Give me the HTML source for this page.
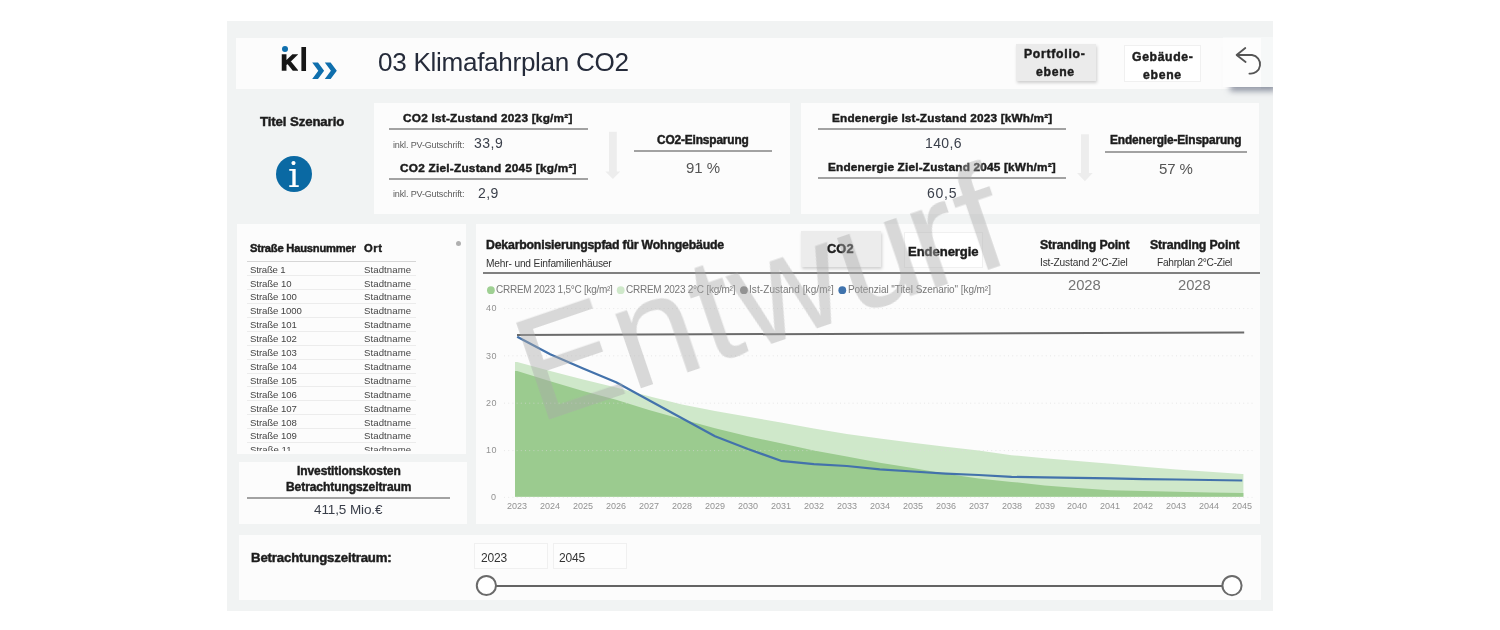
<!DOCTYPE html>
<html lang="de"><head><meta charset="utf-8"><title>03 Klimafahrplan CO2</title>
<style>
html,body{margin:0;padding:0;background:#fff}
body{width:1500px;height:630px;position:relative;overflow:hidden;font-family:"Liberation Sans", sans-serif}
.abs{position:absolute}
.p{position:absolute;background:#fcfcfc}
.t{position:absolute;white-space:nowrap;line-height:1;font-family:"Liberation Sans", sans-serif;will-change:transform}
.hl{position:absolute;height:1.9px;background:#a2a2a2;margin-top:-.5px}
.rl{position:absolute;height:1px;background:#ececec;left:246.7px;width:169.2px}
</style></head><body>
<div class="abs" style="left:227.3px;top:21px;width:1046px;height:590px;background:#f1f3f3"></div>
<!-- header -->
<div class="p" style="left:235.6px;top:37.6px;width:1025.4px;height:51px"></div>
<!-- kpi panels -->
<div class="p" style="left:374.2px;top:103.2px;width:415.8px;height:111.3px"></div>
<div class="p" style="left:800.7px;top:103.2px;width:458.5px;height:111.3px"></div>
<!-- table / invest / chart / bottom -->
<div class="p" style="left:237px;top:223.7px;width:228.8px;height:230.4px"></div>
<div class="p" style="left:239px;top:461.9px;width:227.8px;height:62.5px"></div>
<div class="p" style="left:475.5px;top:223.8px;width:784px;height:300.2px"></div>
<div class="p" style="left:239.3px;top:534.9px;width:1021.7px;height:65.4px"></div>

<!-- header buttons -->
<div class="abs" style="left:1016.4px;top:43.8px;width:79.3px;height:36.8px;background:#ebebeb;box-shadow:1px 2px 3px rgba(0,0,0,.18)"></div>
<div class="abs" style="left:1123.7px;top:45.4px;width:77.3px;height:36.6px;background:#fff;border:1px solid #f0f0f0;box-sizing:border-box"></div>
<div class="abs" style="left:227.3px;top:21px;width:1046px;height:590px;overflow:hidden"><div class="abs" style="left:996px;top:15.6px;width:52px;height:50.6px;background:rgba(255,255,255,.4);box-shadow:4px 7px 6px -3px rgba(60,70,95,.55)"></div></div>
<svg class="abs" style="left:1223px;top:36px" width="51" height="52" viewBox="1223 36 51 52"><path d="M1245.3,48 L1236.6,55 L1245.6,62 M1237,55 L1252,55 A9.2,9.2 0 0 1 1249.4,73.6" fill="none" stroke="#555" stroke-width="1.8" stroke-linecap="round" stroke-linejoin="round"/></svg>

<!-- logo -->
<div class="abs" style="left:281.6px;top:45.7px;width:6.2px;height:6.2px;border-radius:50%;background:#0f6fad"></div>
<span class="t" style="left:281.4px;top:51.64px;font-size:22.4px;font-weight:700;color:#161616;-webkit-text-stroke:1.5px #161616">K</span>
<span class="t" style="left:299.2px;top:41.82px;font-size:34px;font-weight:700;color:#161616">l</span>
<svg class="abs" style="left:311px;top:61px" width="28" height="20" viewBox="311 61 28 20"><g fill="#0f6fad"><path d="M312.2,62.5 H318 L324.1,70.7 L318,79.1 H312.2 L318.3,70.7 Z"/><path d="M324.8,62.5 H330.6 L336.8,70.7 L330.6,79.1 H324.8 L330.9,70.7 Z"/></g></svg>

<!-- info icon -->
<div class="abs" style="left:276.2px;top:155.9px;width:36.2px;height:36.2px;border-radius:50%;background:#0a69a3"></div>
<span class="t" style="left:287.8px;top:156.7px;font-family:'DejaVu Serif','Liberation Serif',serif;font-size:36px;font-weight:400;color:#fff">i</span>

<!-- kpi lines -->
<div class="hl" style="left:389.3px;top:128.6px;width:198.5px"></div>
<div class="hl" style="left:389.3px;top:178.5px;width:198.5px"></div>
<div class="hl" style="left:634px;top:150.6px;width:137.7px"></div>
<div class="hl" style="left:817.9px;top:128.6px;width:248.6px"></div>
<div class="hl" style="left:817.9px;top:177.8px;width:248.6px"></div>
<div class="hl" style="left:1104.7px;top:151.6px;width:142.8px"></div>
<svg class="abs" style="left:0;top:0" width="1500" height="630" viewBox="0 0 1500 630"><g fill="#ededed">
<path d="M609,131.8 H616.8 V171.5 H620.3 L612.9,178.9 L605.4,171.5 H609 Z"/>
<path d="M1081,134.2 H1088.9 V173 H1092.7 L1084.9,181.2 L1077,173 H1081 Z"/>
</g></svg>

<!-- table -->
<div class="abs" style="left:246.7px;top:260.9px;width:169.2px;height:1.2px;background:#d6d6d6"></div>
<div class="rl" style="top:275.2px"></div><div class="rl" style="top:289.1px"></div><div class="rl" style="top:303.0px"></div><div class="rl" style="top:316.9px"></div><div class="rl" style="top:330.8px"></div><div class="rl" style="top:344.7px"></div><div class="rl" style="top:358.6px"></div><div class="rl" style="top:372.5px"></div><div class="rl" style="top:386.4px"></div><div class="rl" style="top:400.3px"></div><div class="rl" style="top:414.2px"></div><div class="rl" style="top:428.1px"></div><div class="rl" style="top:442.0px"></div>
<div class="abs" style="left:455.8px;top:241.4px;width:5px;height:5px;border-radius:50%;background:#b0b0b0"></div>
<div class="hl" style="left:246.7px;top:497.9px;width:203.8px"></div>

<!-- chart -->
<div class="abs" style="left:801.4px;top:230.7px;width:80.1px;height:35.9px;background:#ececec;box-shadow:1px 2px 3px rgba(0,0,0,.18)"></div>
<div class="abs" style="left:904.3px;top:232px;width:78.4px;height:36px;background:#fff;border:1px solid #f0f0f0;box-sizing:border-box"></div>
<div class="abs" style="left:482.5px;top:272.3px;width:777px;height:1.9px;background:#808080"></div>
<svg class="abs" style="left:0;top:0" width="1500" height="630" viewBox="0 0 1500 630">
<path d="M515.0,496.7 L515.0,361.9 L517.2,361.9 L550.2,371.0 L583.1,379.5 L616.1,387.4 L649.0,396.3 L682.0,404.5 L715.0,410.9 L747.9,416.8 L780.9,422.5 L813.8,428.4 L846.8,433.9 L879.8,438.5 L912.7,442.8 L945.7,446.8 L978.6,450.4 L1011.6,455.2 L1044.6,458.2 L1077.5,461.1 L1110.5,463.7 L1143.4,466.7 L1176.4,469.4 L1209.4,471.8 L1242.3,474.1 L1243.4,474.1 L1243.4,496.7 Z" fill="#cfe8ca"/>
<path d="M515.0,496.7 L515.0,370.9 L517.2,370.9 L550.2,381.3 L583.1,391.0 L616.1,399.8 L649.0,410.0 L682.0,419.2 L715.0,428.2 L747.9,436.2 L780.9,443.3 L813.8,450.4 L846.8,456.6 L879.8,462.7 L912.7,467.9 L945.7,473.7 L978.6,478.4 L1011.6,481.9 L1044.6,485.4 L1077.5,488.1 L1110.5,490.2 L1143.4,491.0 L1176.4,491.8 L1209.4,492.5 L1242.3,493.0 L1243.4,493.0 L1243.4,496.7 Z" fill="#9bcb8f"/>
<g stroke="rgba(218,218,218,.6)" stroke-width="1" stroke-dasharray="1 3.2"><line x1="504" x2="1252.5" y1="308.6" y2="308.6"/><line x1="504" x2="1252.5" y1="355.8" y2="355.8"/><line x1="504" x2="1252.5" y1="403.2" y2="403.2"/><line x1="504" x2="1252.5" y1="450.6" y2="450.6"/><line x1="504" x2="1252.5" y1="497.4" y2="497.4"/></g>
<path d="M517,334.9 L1244.2,332.6" stroke="#6b6b6b" stroke-width="2" fill="none"/>
<path d="M517.2,336.8 L550.2,354.3 L583.1,368.5 L616.1,382.2 L649.0,400.2 L682.0,418.2 L715.0,436.2 L747.9,449.0 L780.9,460.8 L813.8,464.2 L846.8,466.0 L879.8,469.4 L912.7,471.5 L945.7,473.6 L978.6,475.0 L1011.6,476.9 L1044.6,477.4 L1077.5,477.9 L1110.5,478.4 L1143.4,479.1 L1176.4,479.5 L1209.4,480.0 L1242.3,480.5" stroke="#4372ab" stroke-width="2.2" fill="none" stroke-linejoin="round"/>
<circle cx="490.9" cy="290.2" r="3.9" fill="#9fd093"/>
<circle cx="620.7" cy="290.2" r="3.9" fill="#cfe8ca"/>
<circle cx="743.9" cy="290.2" r="3.9" fill="#808080"/>
<circle cx="842.3" cy="290.2" r="3.9" fill="#3f73ad"/>
</svg>

<!-- bottom -->
<div class="abs" style="left:474.2px;top:543px;width:73.8px;height:25.8px;border:1px solid #f0f0f0;box-sizing:border-box;background:#fdfdfd"></div>
<div class="abs" style="left:552.9px;top:543px;width:74px;height:25.8px;border:1px solid #f0f0f0;box-sizing:border-box;background:#fdfdfd"></div>
<div class="abs" style="left:486px;top:584.5px;width:746px;height:2px;background:#646464"></div>
<svg class="abs" style="left:474px;top:573px" width="26" height="26" viewBox="0 0 26 26"><circle cx="12.4" cy="12.5" r="9.6" fill="#fff" stroke="#6a6a6a" stroke-width="2"/></svg>
<svg class="abs" style="left:1219px;top:573px" width="26" height="26" viewBox="0 0 26 26"><circle cx="13" cy="12.6" r="9.6" fill="#fff" stroke="#6a6a6a" stroke-width="2"/></svg>

<!-- texts -->
<span class="t" style="left:377.63px;top:48.61px;font-size:26.1px;font-weight:400;color:#252b3a;letter-spacing:-0.298px">03 Klimafahrplan CO2</span>
<span class="t" style="left:1024.37px;top:48.27px;font-size:12.2px;font-weight:700;color:#1c1c1c;letter-spacing:0.732px;-webkit-text-stroke:.45px">Portfolio-</span>
<span class="t" style="left:1035.97px;top:66.07px;font-size:12.2px;font-weight:700;color:#1c1c1c;letter-spacing:0.727px;-webkit-text-stroke:.45px">ebene</span>
<span class="t" style="left:1131.67px;top:50.77px;font-size:12.2px;font-weight:700;color:#1c1c1c;letter-spacing:0.646px;-webkit-text-stroke:.45px">Gebäude-</span>
<span class="t" style="left:1143.27px;top:68.67px;font-size:12.2px;font-weight:700;color:#1c1c1c;letter-spacing:0.727px;-webkit-text-stroke:.45px">ebene</span>
<span class="t" style="left:259.91px;top:115.03px;font-size:13.2px;font-weight:700;color:#1c1c1c;letter-spacing:-0.096px;-webkit-text-stroke:.45px">Titel Szenario</span>
<span class="t" style="left:403.49px;top:112.71px;font-size:11.8px;font-weight:700;color:#1c1c1c;letter-spacing:0.228px;-webkit-text-stroke:.45px">CO2 Ist-Zustand 2023 [kg/m²]</span>
<span class="t" style="left:393.06px;top:140.88px;font-size:9px;font-weight:400;color:#5a5a5a;letter-spacing:-0.139px">inkl. PV-Gutschrift:</span>
<span class="t" style="left:474.16px;top:136.35px;font-size:14px;font-weight:400;color:#3a3f4a;letter-spacing:0.497px">33,9</span>
<span class="t" style="left:400.09px;top:162.71px;font-size:11.8px;font-weight:700;color:#1c1c1c;letter-spacing:0.240px;-webkit-text-stroke:.45px">CO2 Ziel-Zustand 2045 [kg/m²]</span>
<span class="t" style="left:393.06px;top:189.98px;font-size:9px;font-weight:400;color:#5a5a5a;letter-spacing:-0.139px">inkl. PV-Gutschrift:</span>
<span class="t" style="left:478.16px;top:186.15px;font-size:14px;font-weight:400;color:#3a3f4a;letter-spacing:0.436px">2,9</span>
<span class="t" style="left:656.79px;top:134.53px;font-size:11.9px;font-weight:700;color:#1c1c1c;letter-spacing:-0.155px;-webkit-text-stroke:.45px">CO2-Einsparung</span>
<span class="t" style="left:685.70px;top:160.40px;font-size:15px;font-weight:400;color:#555;letter-spacing:-0.051px">91 %</span>
<span class="t" style="left:831.69px;top:112.71px;font-size:11.8px;font-weight:700;color:#1c1c1c;letter-spacing:0.170px;-webkit-text-stroke:.45px">Endenergie Ist-Zustand 2023 [kWh/m²]</span>
<span class="t" style="left:924.56px;top:136.45px;font-size:14px;font-weight:400;color:#3a3f4a;letter-spacing:0.398px">140,6</span>
<span class="t" style="left:827.89px;top:162.31px;font-size:11.8px;font-weight:700;color:#1c1c1c;letter-spacing:0.191px;-webkit-text-stroke:.45px">Endenergie Ziel-Zustand 2045 [kWh/m²]</span>
<span class="t" style="left:927.16px;top:185.85px;font-size:14px;font-weight:400;color:#3a3f4a;letter-spacing:0.763px">60,5</span>
<span class="t" style="left:1110.29px;top:135.13px;font-size:11.9px;font-weight:700;color:#1c1c1c;letter-spacing:-0.131px;-webkit-text-stroke:.45px">Endenergie-Einsparung</span>
<span class="t" style="left:1158.90px;top:161.30px;font-size:15px;font-weight:400;color:#555;letter-spacing:-0.118px">57 %</span>
<span class="t" style="left:250.13px;top:242.92px;font-size:11.2px;font-weight:700;color:#1c1c1c;letter-spacing:-0.225px;-webkit-text-stroke:.45px">Straße Hausnummer</span>
<span class="t" style="left:364.03px;top:242.92px;font-size:11.2px;font-weight:700;color:#1c1c1c;letter-spacing:0.575px;-webkit-text-stroke:.45px">Ort</span>
<span class="t" style="left:250.22px;top:264.67px;font-size:9.6px;font-weight:400;color:#444;letter-spacing:-0.177px">Straße 1</span>
<span class="t" style="left:364.12px;top:264.67px;font-size:9.6px;font-weight:400;color:#444;letter-spacing:0.081px">Stadtname</span>
<span class="t" style="left:250.22px;top:278.57px;font-size:9.6px;font-weight:400;color:#444;letter-spacing:-0.073px">Straße 10</span>
<span class="t" style="left:364.12px;top:278.57px;font-size:9.6px;font-weight:400;color:#444;letter-spacing:0.081px">Stadtname</span>
<span class="t" style="left:250.22px;top:292.47px;font-size:9.6px;font-weight:400;color:#444;letter-spacing:-0.079px">Straße 100</span>
<span class="t" style="left:364.12px;top:292.47px;font-size:9.6px;font-weight:400;color:#444;letter-spacing:0.081px">Stadtname</span>
<span class="t" style="left:250.22px;top:306.37px;font-size:9.6px;font-weight:400;color:#444;letter-spacing:-0.096px">Straße 1000</span>
<span class="t" style="left:364.12px;top:306.37px;font-size:9.6px;font-weight:400;color:#444;letter-spacing:0.081px">Stadtname</span>
<span class="t" style="left:250.22px;top:320.27px;font-size:9.6px;font-weight:400;color:#444;letter-spacing:-0.079px">Straße 101</span>
<span class="t" style="left:364.12px;top:320.27px;font-size:9.6px;font-weight:400;color:#444;letter-spacing:0.081px">Stadtname</span>
<span class="t" style="left:250.22px;top:334.17px;font-size:9.6px;font-weight:400;color:#444;letter-spacing:-0.079px">Straße 102</span>
<span class="t" style="left:364.12px;top:334.17px;font-size:9.6px;font-weight:400;color:#444;letter-spacing:0.081px">Stadtname</span>
<span class="t" style="left:250.22px;top:348.07px;font-size:9.6px;font-weight:400;color:#444;letter-spacing:-0.079px">Straße 103</span>
<span class="t" style="left:364.12px;top:348.07px;font-size:9.6px;font-weight:400;color:#444;letter-spacing:0.081px">Stadtname</span>
<span class="t" style="left:250.22px;top:361.97px;font-size:9.6px;font-weight:400;color:#444;letter-spacing:-0.079px">Straße 104</span>
<span class="t" style="left:364.12px;top:361.97px;font-size:9.6px;font-weight:400;color:#444;letter-spacing:0.081px">Stadtname</span>
<span class="t" style="left:250.22px;top:375.87px;font-size:9.6px;font-weight:400;color:#444;letter-spacing:-0.079px">Straße 105</span>
<span class="t" style="left:364.12px;top:375.87px;font-size:9.6px;font-weight:400;color:#444;letter-spacing:0.081px">Stadtname</span>
<span class="t" style="left:250.22px;top:389.77px;font-size:9.6px;font-weight:400;color:#444;letter-spacing:-0.079px">Straße 106</span>
<span class="t" style="left:364.12px;top:389.77px;font-size:9.6px;font-weight:400;color:#444;letter-spacing:0.081px">Stadtname</span>
<span class="t" style="left:250.22px;top:403.67px;font-size:9.6px;font-weight:400;color:#444;letter-spacing:-0.079px">Straße 107</span>
<span class="t" style="left:364.12px;top:403.67px;font-size:9.6px;font-weight:400;color:#444;letter-spacing:0.081px">Stadtname</span>
<span class="t" style="left:250.22px;top:417.57px;font-size:9.6px;font-weight:400;color:#444;letter-spacing:-0.079px">Straße 108</span>
<span class="t" style="left:364.12px;top:417.57px;font-size:9.6px;font-weight:400;color:#444;letter-spacing:0.081px">Stadtname</span>
<span class="t" style="left:250.22px;top:431.47px;font-size:9.6px;font-weight:400;color:#444;letter-spacing:-0.079px">Straße 109</span>
<span class="t" style="left:364.12px;top:431.47px;font-size:9.6px;font-weight:400;color:#444;letter-spacing:0.081px">Stadtname</span>
<span class="t" style="left:250.22px;top:445.37px;font-size:9.6px;font-weight:400;color:#444;letter-spacing:0.017px">Straße 11</span>
<span class="t" style="left:364.12px;top:445.37px;font-size:9.6px;font-weight:400;color:#444;letter-spacing:0.081px">Stadtname</span>
<span class="t" style="left:296.88px;top:465.14px;font-size:12px;font-weight:700;color:#1c1c1c;letter-spacing:-0.096px;-webkit-text-stroke:.45px">Investitionskosten</span>
<span class="t" style="left:285.78px;top:481.24px;font-size:12px;font-weight:700;color:#1c1c1c;letter-spacing:-0.062px;-webkit-text-stroke:.45px">Betrachtungszeitraum</span>
<span class="t" style="left:314.39px;top:502.67px;font-size:13.5px;font-weight:400;color:#3a3f4a;letter-spacing:-0.106px">411,5 Mio.€</span>
<span class="t" style="left:486.16px;top:238.69px;font-size:12.3px;font-weight:700;color:#1c1c1c;letter-spacing:-0.192px;-webkit-text-stroke:.45px">Dekarbonisierungspfad für Wohngebäude</span>
<span class="t" style="left:486.29px;top:258.77px;font-size:10.2px;font-weight:400;color:#333;letter-spacing:-0.174px">Mehr- und Einfamilienhäuser</span>
<span class="t" style="left:496.20px;top:285.14px;font-size:10px;font-weight:400;color:#777;letter-spacing:-0.262px">CRREM 2023 1,5°C [kg/m²]</span>
<span class="t" style="left:626.10px;top:285.14px;font-size:10px;font-weight:400;color:#777;letter-spacing:-0.243px">CRREM 2023 2°C [kg/m²]</span>
<span class="t" style="left:748.80px;top:285.14px;font-size:10px;font-weight:400;color:#777;letter-spacing:0.080px">Ist-Zustand [kg/m²]</span>
<span class="t" style="left:847.60px;top:285.14px;font-size:10px;font-weight:400;color:#777;letter-spacing:-0.067px">Potenzial "Titel Szenario" [kg/m²]</span>
<span class="t" style="left:826.83px;top:243.36px;font-size:12.8px;font-weight:700;color:#1c1c1c;letter-spacing:0.098px;-webkit-text-stroke:.45px">CO2</span>
<span class="t" style="left:907.81px;top:244.71px;font-size:13.1px;font-weight:700;color:#1c1c1c;letter-spacing:-0.075px;-webkit-text-stroke:.45px">Endenergie</span>
<span class="t" style="left:1039.86px;top:238.89px;font-size:12.3px;font-weight:700;color:#1c1c1c;letter-spacing:-0.142px;-webkit-text-stroke:.45px">Stranding Point</span>
<span class="t" style="left:1040.29px;top:258.17px;font-size:10.2px;font-weight:400;color:#333;letter-spacing:-0.157px">Ist-Zustand 2°C-Ziel</span>
<span class="t" style="left:1149.56px;top:238.89px;font-size:12.3px;font-weight:700;color:#1c1c1c;letter-spacing:-0.135px;-webkit-text-stroke:.45px">Stranding Point</span>
<span class="t" style="left:1156.89px;top:258.17px;font-size:10.2px;font-weight:400;color:#333;letter-spacing:-0.289px">Fahrplan 2°C-Ziel</span>
<span class="t" style="left:1067.81px;top:277.57px;font-size:14.8px;font-weight:400;color:#747474;letter-spacing:-0.098px">2028</span>
<span class="t" style="left:1177.91px;top:277.57px;font-size:14.8px;font-weight:400;color:#747474;letter-spacing:-0.098px">2028</span>
<span class="t" style="left:486.46px;top:304.48px;font-size:9.0px;font-weight:400;color:#929292;letter-spacing:0.374px">40</span>
<span class="t" style="left:486.46px;top:351.68px;font-size:9.0px;font-weight:400;color:#929292;letter-spacing:0.374px">30</span>
<span class="t" style="left:486.46px;top:399.08px;font-size:9.0px;font-weight:400;color:#929292;letter-spacing:0.374px">20</span>
<span class="t" style="left:486.46px;top:446.48px;font-size:9.0px;font-weight:400;color:#929292;letter-spacing:0.374px">10</span>
<span class="t" style="left:491.16px;top:492.98px;font-size:9.0px;font-weight:400;color:#929292;letter-spacing:0.000px">0</span>
<span class="t" style="left:507.16px;top:501.88px;font-size:9.0px;font-weight:400;color:#929292;letter-spacing:-0.014px">2023</span>
<span class="t" style="left:540.12px;top:501.88px;font-size:9.0px;font-weight:400;color:#929292;letter-spacing:-0.014px">2024</span>
<span class="t" style="left:573.08px;top:501.88px;font-size:9.0px;font-weight:400;color:#929292;letter-spacing:-0.014px">2025</span>
<span class="t" style="left:606.04px;top:501.88px;font-size:9.0px;font-weight:400;color:#929292;letter-spacing:-0.014px">2026</span>
<span class="t" style="left:639.00px;top:501.88px;font-size:9.0px;font-weight:400;color:#929292;letter-spacing:-0.014px">2027</span>
<span class="t" style="left:671.96px;top:501.88px;font-size:9.0px;font-weight:400;color:#929292;letter-spacing:-0.014px">2028</span>
<span class="t" style="left:704.92px;top:501.88px;font-size:9.0px;font-weight:400;color:#929292;letter-spacing:-0.014px">2029</span>
<span class="t" style="left:737.88px;top:501.88px;font-size:9.0px;font-weight:400;color:#929292;letter-spacing:-0.014px">2030</span>
<span class="t" style="left:770.84px;top:501.88px;font-size:9.0px;font-weight:400;color:#929292;letter-spacing:-0.014px">2031</span>
<span class="t" style="left:803.80px;top:501.88px;font-size:9.0px;font-weight:400;color:#929292;letter-spacing:-0.014px">2032</span>
<span class="t" style="left:836.76px;top:501.88px;font-size:9.0px;font-weight:400;color:#929292;letter-spacing:-0.014px">2033</span>
<span class="t" style="left:869.72px;top:501.88px;font-size:9.0px;font-weight:400;color:#929292;letter-spacing:-0.014px">2034</span>
<span class="t" style="left:902.68px;top:501.88px;font-size:9.0px;font-weight:400;color:#929292;letter-spacing:-0.014px">2035</span>
<span class="t" style="left:935.64px;top:501.88px;font-size:9.0px;font-weight:400;color:#929292;letter-spacing:-0.014px">2036</span>
<span class="t" style="left:968.60px;top:501.88px;font-size:9.0px;font-weight:400;color:#929292;letter-spacing:-0.014px">2037</span>
<span class="t" style="left:1001.56px;top:501.88px;font-size:9.0px;font-weight:400;color:#929292;letter-spacing:-0.014px">2038</span>
<span class="t" style="left:1034.52px;top:501.88px;font-size:9.0px;font-weight:400;color:#929292;letter-spacing:-0.014px">2039</span>
<span class="t" style="left:1067.48px;top:501.88px;font-size:9.0px;font-weight:400;color:#929292;letter-spacing:-0.014px">2040</span>
<span class="t" style="left:1100.44px;top:501.88px;font-size:9.0px;font-weight:400;color:#929292;letter-spacing:-0.014px">2041</span>
<span class="t" style="left:1133.40px;top:501.88px;font-size:9.0px;font-weight:400;color:#929292;letter-spacing:-0.014px">2042</span>
<span class="t" style="left:1166.36px;top:501.88px;font-size:9.0px;font-weight:400;color:#929292;letter-spacing:-0.014px">2043</span>
<span class="t" style="left:1199.32px;top:501.88px;font-size:9.0px;font-weight:400;color:#929292;letter-spacing:-0.014px">2044</span>
<span class="t" style="left:1232.28px;top:501.88px;font-size:9.0px;font-weight:400;color:#929292;letter-spacing:-0.014px">2045</span>
<span class="t" style="left:250.61px;top:550.93px;font-size:13.2px;font-weight:700;color:#1c1c1c;letter-spacing:-0.144px;-webkit-text-stroke:.45px">Betrachtungszeitraum:</span>
<span class="t" style="left:480.68px;top:551.84px;font-size:12px;font-weight:400;color:#333;letter-spacing:-0.194px">2023</span>
<span class="t" style="left:559.48px;top:551.84px;font-size:12px;font-weight:400;color:#333;letter-spacing:-0.194px">2045</span>

<!-- clip of table bottom -->
<div class="abs" style="left:237px;top:450.6px;width:228.8px;height:3.5px;background:#fcfcfc"></div>
<div class="abs" style="left:237px;top:454.1px;width:236px;height:7.8px;background:#f1f3f3"></div>

<!-- watermark -->
<span class="t" style="left:0;top:0;font-size:148px;color:rgba(170,170,170,.43);transform-origin:0 0;transform:translate(497.4px,305.1px) rotate(-18.8deg)">E<span style="letter-spacing:2px">n</span><span style="letter-spacing:1px">t</span><span style="letter-spacing:1.5px">w</span><span style="letter-spacing:-5.5px">u</span><span style="letter-spacing:3px">r</span>f</span>
</body></html>
